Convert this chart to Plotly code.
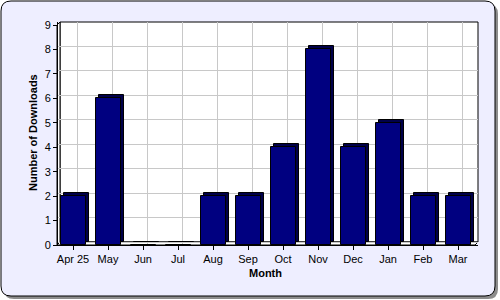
import plotly.graph_objects as go

# ---- data ----
months = ["Apr 25", "May", "Jun", "Jul", "Aug", "Sep", "Oct", "Nov", "Dec", "Jan", "Feb", "Mar"]
downloads = [2, 6, 0, 0, 2, 2, 4, 8, 4, 5, 2, 2]
y_ticks = [0, 1, 2, 3, 4, 5, 6, 7, 8, 9]
x_title = "Month"
y_title = "Number of Downloads"

# ---- geometry (pixels) ----
W, H = 500, 300
L, R, T, B = 58, 22, 22, 55
PW, PH = W - L - R, H - T - B
UNIT = 24.44           # px per download
CAT = PW / len(months)  # px per category
FIRST = 15.0            # px from left of plot to first category centre

def px(x):
    return (x - L) / PW

def py(y):
    return (H - B - y) / PH

def xrange_shift(s):
    r0 = -(FIRST + s) / CAT
    return [r0, r0 + len(months)]

def yrange_shift(s):
    r0 = -s / UNIT
    return [r0, r0 + PH / UNIT]

xs = list(range(len(months)))
FONT = "Liberation Sans, Arial, sans-serif"
NAVY = "#000080"
BW = 25 / CAT

fig = go.Figure()
# invisible trace to anchor the grid subplot
fig.add_trace(go.Scatter(x=xs, y=downloads, xaxis="x", yaxis="y", mode="markers",
                         marker=dict(opacity=0), hoverinfo="skip", showlegend=False))
# 3D depth (shifted copy of the bars)
fig.add_trace(go.Bar(x=xs, y=downloads, xaxis="x2", yaxis="y", width=BW,
                     marker=dict(color="#00004a", line=dict(color="black", width=1)),
                     hoverinfo="skip", showlegend=False))
# front faces
fig.add_trace(go.Bar(x=xs, y=downloads, xaxis="x3", yaxis="y2", width=BW,
                     marker=dict(color=NAVY, line=dict(color="black", width=1)),
                     showlegend=False))

def rounded_path(x0, y0, x1, y1, r):
    pts = [
        f"M {px(x0 + r)},{py(y0)}",
        f"L {px(x1 - r)},{py(y0)}",
        f"Q {px(x1)},{py(y0)} {px(x1)},{py(y0 + r)}",
        f"L {px(x1)},{py(y1 - r)}",
        f"Q {px(x1)},{py(y1)} {px(x1 - r)},{py(y1)}",
        f"L {px(x0 + r)},{py(y1)}",
        f"Q {px(x0)},{py(y1)} {px(x0)},{py(y1 - r)}",
        f"L {px(x0)},{py(y0 + r)}",
        f"Q {px(x0)},{py(y0)} {px(x0 + r)},{py(y0)} Z",
    ]
    return " ".join(pts)

def poly(points):
    s = "M " + " L ".join(f"{px(a)},{py(b)}" for a, b in points) + " Z"
    return s

shapes = [
    dict(type="path", xref="paper", yref="paper", layer="below",
         path=rounded_path(4, 4, 498, 299, 10), fillcolor="#8c8c8c", line=dict(width=0)),
    dict(type="path", xref="paper", yref="paper", layer="below",
         path=rounded_path(1, 1, 495, 296, 10), fillcolor="#eeeeff",
         line=dict(color="black", width=1)),
    dict(type="rect", xref="paper", yref="paper", layer="below",
         x0=px(60), x1=px(478), y0=py(242), y1=py(22), fillcolor="white",
         line=dict(color="black", width=1)),
    dict(type="path", xref="paper", yref="paper", layer="below",
         path=poly([(57, 25), (60, 22), (60, 242), (57, 245)]), fillcolor="white",
         line=dict(color="black", width=1)),
    dict(type="path", xref="paper", yref="paper", layer="below",
         path=poly([(57, 245), (60, 242), (478, 242), (475, 245)]), fillcolor="white",
         line=dict(color="black", width=1)),
]

annotations = [
    dict(text=f"<b>{x_title}</b>", xref="paper", yref="paper", x=px(265), y=py(273),
         showarrow=False, font=dict(family=FONT, size=11, color="black"),
         xanchor="center", yanchor="middle"),
    dict(text=f"<b>{y_title}</b>", xref="paper", yref="paper", x=px(33), y=py(133),
         showarrow=False, textangle=-90, font=dict(family=FONT, size=11, color="black"),
         xanchor="center", yanchor="middle"),
]

grid = dict(type="linear", showgrid=True, gridcolor="#c8c8c8", gridwidth=1, zeroline=False,
            showticklabels=False, ticks="", showline=False)

fig.update_layout(
    width=W, height=H, autosize=False,
    margin=dict(l=L, r=R, t=T, b=B, pad=0),
    paper_bgcolor="white", plot_bgcolor="rgba(0,0,0,0)",
    bargap=0, barmode="overlay",
    shapes=shapes, annotations=annotations,
    font=dict(family=FONT, size=11, color="black"),
    xaxis=dict(range=xrange_shift(4), tickmode="array", tickvals=xs, **grid),
    yaxis=dict(range=yrange_shift(3), tickmode="array", tickvals=y_ticks, **grid),
    xaxis2=dict(type="linear", range=xrange_shift(3), overlaying="x", visible=False),
    xaxis3=dict(type="linear", range=xrange_shift(0), overlaying="x", tickmode="array",
                tickvals=xs, ticktext=months, ticks="outside", ticklen=4, tickcolor="black",
                showline=True, linecolor="black", linewidth=1, showgrid=False,
                zeroline=False, side="bottom",
                tickfont=dict(family=FONT, size=11, color="black")),
    yaxis2=dict(type="linear", range=yrange_shift(0), overlaying="y", tickmode="array",
                tickvals=y_ticks, ticks="outside", ticklen=4, tickcolor="black",
                showline=True, linecolor="black", linewidth=1, showgrid=False,
                zeroline=False, side="left",
                tickfont=dict(family=FONT, size=11, color="black")),
    showlegend=False,
)

fig.write_html("out.html")
